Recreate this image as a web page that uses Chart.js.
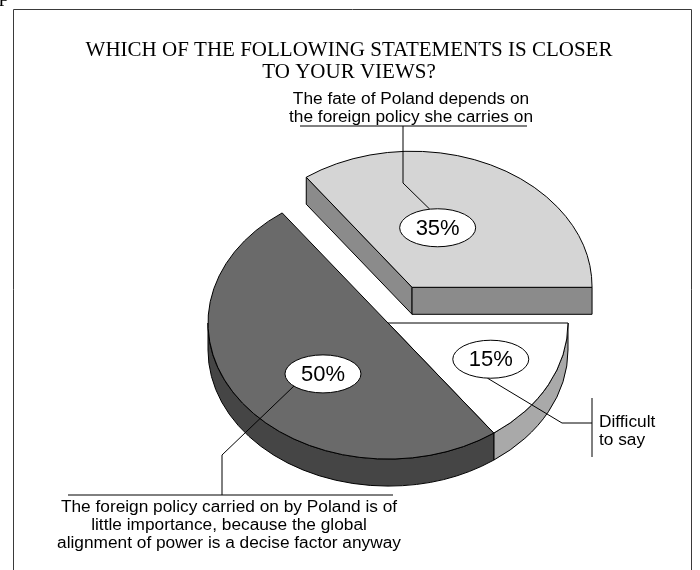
<!DOCTYPE html>
<html>
<head>
<meta charset="utf-8">
<script src="https://cdn.jsdelivr.net/npm/chart.js@4/dist/chart.umd.min.js"></script>
<style>
  html, body { margin: 0; padding: 0; background: #fff; }
  canvas { display: block; }
</style>
</head>
<body>
<canvas id="poll" width="700" height="570"></canvas>
<script>
// ---- data ----
const categories = [
  'Difficult to say',
  'The foreign policy carried on by Poland is of little importance, because the global alignment of power is a decise factor anyway',
  'The fate of Poland depends on the foreign policy she carries on'
];
const shares = [15, 50, 35];
const percentLabels = ['15%', '50%', '35%'];
const exploded = [false, false, true];
const titleLines = ['WHICH OF THE FOLLOWING STATEMENTS IS CLOSER', 'TO YOUR VIEWS?'];
const calloutLines = [
  ['Difficult', 'to say'],
  ['The foreign policy carried on by Poland is of', 'little importance, because the global', 'alignment of power is a decise factor anyway'],
  ['The fate of Poland depends on', 'the foreign policy she carries on']
];

// ---- styling ----
const topColors  = ['#ffffff', '#6a6a6a', '#d5d5d5'];
const sideColors = ['#a9a9a9', '#454545', '#8b8b8b'];
const TILT = 0.756;      // vertical squash of the disc
const DEPTH = 27;        // thickness of the disc
const EXPLODE = 53;      // pull-out distance of the detached slice
const SANS = '"Liberation Sans", Arial, Helvetica, sans-serif';
const SERIF = '"Liberation Serif", "Times New Roman", Times, serif';

// where each percentage bubble sits inside its slice
const bubblePlacement = [
  { shift: -2,  frac: 0.63 },
  { shift: -10, frac: 0.52 },
  { shift: -9,  frac: 0.46 }
];
// callout routing: leader bends, the bar the text hangs on, text anchor
const callouts = [
  { from: 95,  path: [[562, 423], [592, 423]], bar: [[592, 398], [592, 457]],
    textX: 599, textY: [422, 440], align: 'left' },
  { from: 140, path: [[222, 455], [222, 495]], bar: [[68, 495], [393, 495]],
    textX: 229, textY: [507, 525, 543], align: 'center' },
  { from: 258, path: [[403, 183], [403, 126]], bar: [[300, 126], [527, 126]],
    textX: 411, textY: [99, 117], align: 'center' }
];

const rad = d => d * Math.PI / 180;

function sliceGeom(arc, i) {
  const mid = (arc.startAngle + arc.endAngle) / 2;
  const ex = exploded[i] ? EXPLODE : 0;
  const r = arc.outerRadius;
  return {
    i, arc, mid,
    ox: Math.cos(mid) * ex, oy: Math.sin(mid) * ex,
    cx: arc.x + Math.cos(mid) * ex,
    cy: arc.y + Math.sin(mid) * ex * TILT,
    r, ry: r * TILT,
    s: arc.startAngle, e: arc.endAngle
  };
}

function rimWall(ctx, g) {
  const a0 = Math.max(g.s, 0), a1 = Math.min(g.e, Math.PI);
  if (a1 <= a0) return;
  ctx.beginPath();
  ctx.ellipse(g.cx, g.cy, g.r, g.ry, 0, a0, a1, false);
  ctx.lineTo(g.cx + g.r * Math.cos(a1), g.cy + g.ry * Math.sin(a1) + DEPTH);
  ctx.ellipse(g.cx, g.cy + DEPTH, g.r, g.ry, 0, a1, a0, true);
  ctx.closePath();
  ctx.fillStyle = sideColors[g.i];
  ctx.fill();
  ctx.stroke();
}

function radialWall(ctx, g, a) {
  const px = g.cx + g.r * Math.cos(a), py = g.cy + g.ry * Math.sin(a);
  ctx.beginPath();
  ctx.moveTo(g.cx, g.cy);
  ctx.lineTo(px, py);
  ctx.lineTo(px, py + DEPTH);
  ctx.lineTo(g.cx, g.cy + DEPTH);
  ctx.closePath();
  ctx.fillStyle = sideColors[g.i];
  ctx.fill();
  ctx.stroke();
}

function topFace(ctx, g) {
  // fill through the arc element itself, squashed into an ellipse
  ctx.save();
  ctx.translate(0, g.arc.y);
  ctx.scale(1, TILT);
  ctx.translate(0, -g.arc.y);
  ctx.translate(g.ox, g.oy);
  g.arc.draw(ctx);
  ctx.restore();
  // crisp outline in screen space
  ctx.beginPath();
  ctx.moveTo(g.cx, g.cy);
  ctx.ellipse(g.cx, g.cy, g.r, g.ry, 0, g.s, g.e, false);
  ctx.closePath();
  ctx.stroke();
}

const solidPie = {
  id: 'solidPie',
  beforeDatasetDraw(chart, args) {
    const ctx = chart.ctx;
    const geoms = args.meta.data.map((arc, i) => sliceGeom(arc, i));
    ctx.save();
    ctx.strokeStyle = '#000';
    ctx.lineWidth = 1;
    ctx.lineJoin = 'miter';
    // detached slices sit behind the body of the disc
    const groups = [geoms.filter(g => exploded[g.i]), geoms.filter(g => !exploded[g.i])];
    groups.forEach(group => {
      group.forEach(g => {
        rimWall(ctx, g);
        const prev = geoms[(g.i + geoms.length - 1) % geoms.length];
        const next = geoms[(g.i + 1) % geoms.length];
        const openStart = exploded[g.i] || exploded[prev.i];
        const openEnd = exploded[g.i] || exploded[next.i];
        if (openStart && Math.cos(g.s) < 0) radialWall(ctx, g, g.s);
        if (openEnd && Math.cos(g.e) > 0) radialWall(ctx, g, g.e);
      });
      group.forEach(g => topFace(ctx, g));
    });
    ctx.restore();
    chart.$sliceGeoms = geoms;
    return false;
  }
};

const annotations = {
  id: 'annotations',
  afterDraw(chart) {
    const ctx = chart.ctx;
    const geoms = chart.$sliceGeoms;
    ctx.save();

    // frame
    ctx.strokeStyle = '#3a3a3a';
    ctx.lineWidth = 1;
    ctx.beginPath();
    ctx.moveTo(13.5, 570);
    ctx.lineTo(13.5, 9.5);
    ctx.lineTo(691.5, 9.5);
    ctx.lineTo(691.5, 570);
    ctx.stroke();

    // tail of the preceding line of text
    ctx.fillStyle = '#000';
    ctx.font = '21px ' + SERIF;
    ctx.textAlign = 'left';
    ctx.textBaseline = 'alphabetic';
    ctx.fillText('p', -1, 1);

    // title
    ctx.textAlign = 'center';
    ctx.textBaseline = 'middle';
    titleLines.forEach((t, k) => ctx.fillText(t, 349, 50 + k * 22));

    // bubble centres
    const bubbles = geoms.map(g => {
      const p = bubblePlacement[g.i];
      const a = g.mid + rad(p.shift);
      return { x: g.cx + g.r * p.frac * Math.cos(a), y: g.cy + g.ry * p.frac * Math.sin(a) };
    });
    const BRX = 38, BRY = 19;

    // leaders and bars
    ctx.strokeStyle = '#000';
    ctx.lineWidth = 1;
    callouts.forEach((c, i) => {
      const b = bubbles[i];
      ctx.beginPath();
      ctx.moveTo(b.x + BRX * Math.cos(rad(c.from)), b.y + BRY * Math.sin(rad(c.from)));
      c.path.forEach(([x, y]) => ctx.lineTo(x, y));
      ctx.stroke();
      ctx.beginPath();
      ctx.moveTo(c.bar[0][0], c.bar[0][1]);
      ctx.lineTo(c.bar[1][0], c.bar[1][1]);
      ctx.stroke();
    });

    // bubbles
    bubbles.forEach((b, i) => {
      ctx.beginPath();
      ctx.ellipse(b.x, b.y, BRX, BRY, 0, 0, Math.PI * 2);
      ctx.fillStyle = '#fff';
      ctx.fill();
      ctx.stroke();
      ctx.fillStyle = '#000';
      ctx.font = '22px ' + SANS;
      ctx.textAlign = 'center';
      ctx.textBaseline = 'middle';
      ctx.fillText(percentLabels[i], b.x, b.y + 1);
    });

    // callout texts
    ctx.font = '17.3px ' + SANS;
    ctx.fillStyle = '#000';
    ctx.textBaseline = 'middle';
    callouts.forEach((c, i) => {
      ctx.textAlign = c.align;
      calloutLines[i].forEach((t, k) => ctx.fillText(t, c.textX, c.textY[k]));
    });

    ctx.restore();
  }
};

new Chart(document.getElementById('poll'), {
  type: 'pie',
  data: {
    labels: categories,
    datasets: [{
      data: shares,
      backgroundColor: topColors,
      borderWidth: 0
    }]
  },
  options: {
    responsive: false,
    animation: false,
    devicePixelRatio: 1,
    rotation: 90,
    radius: 180,
    layout: { padding: { left: 76, top: 76, right: 0, bottom: 0 } },
    events: [],
    plugins: {
      legend: { display: false },
      tooltip: { enabled: false },
      title: { display: false }
    }
  },
  plugins: [solidPie, annotations]
});
</script>
</body>
</html>
